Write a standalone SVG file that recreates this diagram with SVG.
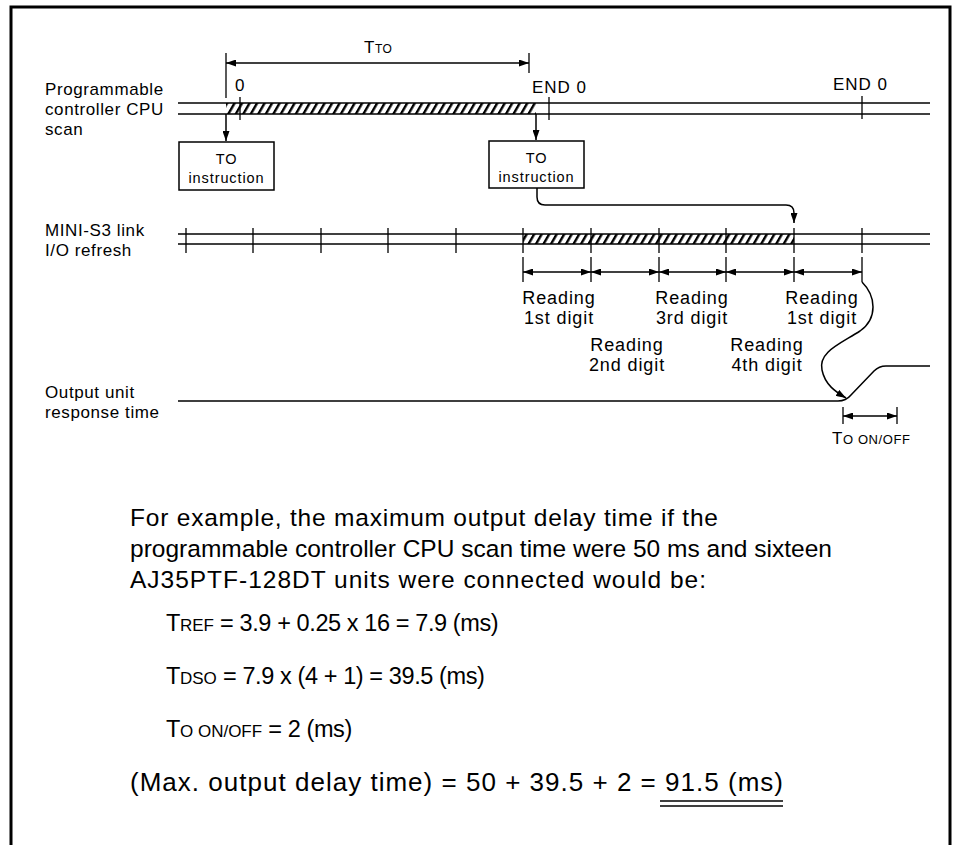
<svg xmlns="http://www.w3.org/2000/svg" width="954" height="845" viewBox="0 0 954 845">
<style>
.ln{stroke:#000;stroke-width:1.5;fill:none}
.tk{stroke:#000;stroke-width:1.3;fill:none}
.brd{stroke:#000;stroke-width:3;fill:none}
.lbl{font-family:"Liberation Sans",Arial,sans-serif;font-size:17px;letter-spacing:0.6px;fill:#000}
.rd{font-size:18px;letter-spacing:0.9px}
.mid{text-anchor:middle}
.sm{font-size:12px;letter-spacing:0.4px}
.sm2{font-size:13px;letter-spacing:0.6px}
.bx{font-family:"Liberation Sans",Arial,sans-serif;font-size:14.5px;letter-spacing:0.9px;fill:#000;text-anchor:middle}
.big{font-family:"Liberation Sans",Arial,sans-serif;font-size:24.5px;fill:#000}
.eq{font-size:23.5px;letter-spacing:-0.4px}
.bsm{font-size:17px;letter-spacing:0}
.dim{stroke:#000;stroke-width:1.3;fill:none;marker-start:url(#ah);marker-end:url(#ah)}
.arr{stroke:#000;stroke-width:1.5;fill:none;marker-end:url(#ah)}
</style>
<defs>
<marker id="ah" viewBox="0 0 10 7" refX="10" refY="3.5" markerWidth="10" markerHeight="7" markerUnits="userSpaceOnUse" orient="auto-start-reverse">
<path d="M0,0 L10,3.5 L0,7 z" fill="#000"/>
</marker>
<pattern id="hatch" patternUnits="userSpaceOnUse" width="6.5" height="20" patternTransform="rotate(30)">
<rect x="0" y="0" width="2.4" height="20" fill="#000"/>
</pattern>
</defs>
<rect width="954" height="845" fill="#fff"/>
<path class="brd" d="M11,845 L11,7 L950,7 L950,845"/>

<g id="ttoDim">
<line class="tk" x1="226" y1="53" x2="226" y2="98"/>
<line class="tk" x1="529" y1="53" x2="529" y2="73"/>
<line class="dim" x1="226" y1="63" x2="529" y2="63"/>
<text class="lbl" x="364" y="53">T<tspan class="sm">TO</tspan></text>
</g>

<g id="cpuScan">
<text class="lbl" x="45" y="95">Programmable</text>
<text class="lbl" x="45" y="115">controller CPU</text>
<text class="lbl" x="45" y="135">scan</text>
<rect x="226" y="103" width="310" height="11" fill="url(#hatch)"/>
<line class="ln" x1="178" y1="103" x2="930" y2="103"/>
<line class="ln" x1="178" y1="114" x2="930" y2="114"/>
<line class="tk" x1="240" y1="97" x2="240" y2="120"/>
<line class="tk" x1="549" y1="97" x2="549" y2="120"/>
<line class="tk" x1="862" y1="96" x2="862" y2="119"/>
<text class="lbl" x="235" y="91">0</text>
<text class="lbl" x="532" y="93" style="letter-spacing:1px">END 0</text>
<text class="lbl" x="833" y="90" style="letter-spacing:1px">END 0</text>
</g>

<g id="box1">
<rect class="ln" x="179" y="142" width="95" height="48"/>
<text class="bx" x="226.5" y="164">TO</text>
<text class="bx" x="226.5" y="183">instruction</text>
</g>
<g id="box2">
<rect class="ln" x="489" y="141" width="95" height="47"/>
<text class="bx" x="536.5" y="163">TO</text>
<text class="bx" x="536.5" y="182">instruction</text>
</g>

<g id="miniS3">
<text class="lbl" x="45" y="236">MINI-S3 link</text>
<text class="lbl" x="45" y="256">I/O refresh</text>
<rect x="523" y="234" width="271" height="10" fill="url(#hatch)"/>
<line class="ln" x1="178" y1="234" x2="930" y2="234"/>
<line class="ln" x1="178" y1="244" x2="930" y2="244"/>
<path class="tk" d="M186,228V253M253,228V253M321,228V253M388,228V253M456,228V253M523,228V253M591,228V253M659,228V253M726,228V253M794,228V253M862,228V253"/>
</g>

<g id="readDims">
<path class="tk" d="M523,257V282M591,257V282M659,257V282M726,257V282M794,257V282M862,257V282"/>
<line class="dim" x1="523" y1="272" x2="591" y2="272"/>
<line class="dim" x1="591" y1="272" x2="659" y2="272"/>
<line class="dim" x1="659" y1="272" x2="726" y2="272"/>
<line class="dim" x1="726" y1="272" x2="794" y2="272"/>
<line class="dim" x1="794" y1="272" x2="862" y2="272"/>
<text class="lbl rd mid" x="559" y="304">Reading</text>
<text class="lbl rd mid" x="559" y="324">1st digit</text>
<text class="lbl rd mid" x="627" y="351">Reading</text>
<text class="lbl rd mid" x="627" y="371">2nd digit</text>
<text class="lbl rd mid" x="692" y="304">Reading</text>
<text class="lbl rd mid" x="692" y="324">3rd digit</text>
<text class="lbl rd mid" x="767" y="351">Reading</text>
<text class="lbl rd mid" x="767" y="371">4th digit</text>
<text class="lbl rd mid" x="822" y="304">Reading</text>
<text class="lbl rd mid" x="822" y="324">1st digit</text>
</g>

<g id="output">
<text class="lbl" x="45" y="398">Output unit</text>
<text class="lbl" x="45" y="418">response time</text>
<path class="ln" d="M178,401 L838,401 Q846,401 851,395 L874,371 Q879,366 886,366 L930,366"/>
<line class="tk" x1="843" y1="407" x2="843" y2="424"/>
<line class="tk" x1="897" y1="407" x2="897" y2="424"/>
<line class="dim" x1="843" y1="416" x2="897" y2="416"/>
<text class="lbl" x="832" y="444">T<tspan class="sm2">O ON/OFF</tspan></text>
</g>

<g id="connectors">
<line class="arr" x1="226" y1="114" x2="226" y2="141"/>
<line class="arr" x1="536" y1="114" x2="536" y2="140"/>
<path class="arr" d="M537,188 L537,197 Q537,205 545,205 L786,205 Q794,205 794,213 L794,223"/>
<path class="arr" d="M862,282 C876,296 878,318 860,331 C840,344 818,352 822,370 C825,385 836,392 846,398"/>
</g>

<g id="example">
<text class="big" x="130" y="526" textLength="588" lengthAdjust="spacing">For example, the maximum output delay time if the</text>
<text class="big" x="130" y="557" textLength="702" lengthAdjust="spacing">programmable controller CPU scan time were 50 ms and sixteen</text>
<text class="big" x="130" y="588" textLength="576" lengthAdjust="spacing">AJ35PTF-128DT units were connected would be:</text>
<text class="big eq" x="166" y="631">T<tspan class="bsm">REF</tspan> = 3.9 + 0.25 x 16 = 7.9 (ms)</text>
<text class="big eq" x="166" y="684">T<tspan class="bsm">DSO</tspan> = 7.9 x (4 + 1) = 39.5 (ms)</text>
<text class="big eq" x="166" y="737">T<tspan class="bsm">O ON/OFF</tspan> = 2 (ms)</text>
<text class="big" x="130" y="791" style="font-size:26px" textLength="653" lengthAdjust="spacing">(Max. output delay time) = 50 + 39.5 + 2 = 91.5 (ms)</text>
<path class="ln" stroke-width="2" d="M660,801 H783 M660,806 H783"/>
</g>
</svg>
